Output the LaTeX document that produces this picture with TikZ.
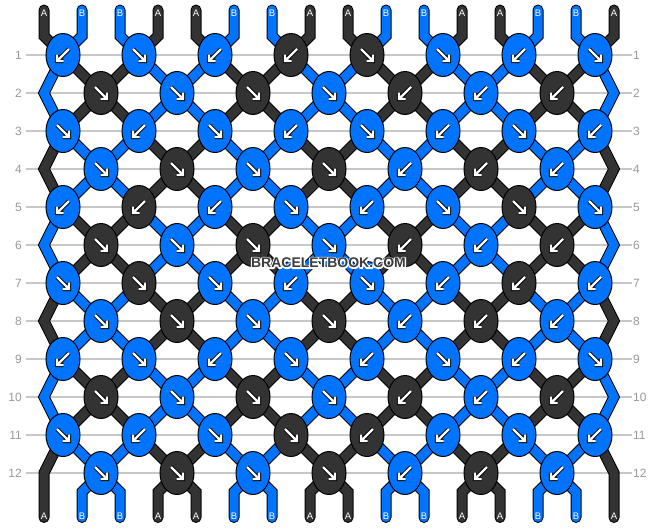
\documentclass[tikz,border=0pt]{standalone}
\usepackage{fontspec}
\setmainfont{Liberation Sans}
\usetikzlibrary{shapes.geometric}
\definecolor{colA}{HTML}{333333}
\definecolor{colB}{HTML}{0073FF}
\definecolor{gridc}{HTML}{C8C8C8}
\definecolor{labc}{HTML}{999999}
\definecolor{wmc}{HTML}{3C3C3C}
\pgfdeclarelayer{gridlayer}
\pgfdeclarelayer{strandlayer}
\pgfsetlayers{gridlayer,strandlayer,main}
\newcommand{\strokeText}[1]{\special{pdf:literal direct 1 1 1 RG 2.6 w 1 j 1 Tr}#1\special{pdf:literal direct 0 Tr}}
\begin{document}
\begin{tikzpicture}[x=1pt,y=-1pt,
  knot/.style={ellipse, draw=black, line width=1pt, fill=#1, minimum width=34pt, minimum height=43pt, inner sep=0pt},
  strand/.style={draw=black, line width=1pt, double=#1, double distance=9pt, line join=miter},
  rowlab/.style={text=labc, font=\fontsize{12}{12}\selectfont, inner sep=0pt},
  endlab/.style={text=white, font=\fontsize{9.5}{9.5}\selectfont, inner sep=0pt, anchor=base},
  arrowout/.style={black, line width=4.2pt, line cap=square, line join=miter},
  arrowin/.style={white, line width=2.2pt, line cap=square, line join=miter},
  wm/.style={font=\bfseries\fontsize{14}{14}\selectfont, inner sep=0pt}
]
\begin{pgfonlayer}{gridlayer}
\fill[white] (0,0) rectangle (658,528);
\end{pgfonlayer}
\useasboundingbox (0,0) rectangle (658,528);

% row labels and grid lines
\foreach \r in {1,...,12} {
  \pgfmathsetmacro{\yy}{55+38*(\r-1)}
  \node[rowlab, anchor=east] (ll\r) at (22,\yy) {\r};
  \node[rowlab, anchor=west] (rl\r) at (633,\yy) {\r};
  \begin{pgfonlayer}{gridlayer}
  \draw[gridc, line width=1.3pt] (26,\yy) -- (632,\yy);
  \end{pgfonlayer}
}

% knots
\foreach \r/\row in {
  1/{B/-1,B/1,B/-1,A/-1,A/1,B/1,B/-1,B/1},
  2/{A/1,B/1,A/1,B/1,A/-1,B/-1,A/-1},
  3/{B/1,B/-1,B/1,B/-1,B/1,B/-1,B/1,B/-1},
  4/{B/1,A/1,B/1,A/1,B/-1,A/-1,B/-1},
  5/{B/-1,A/-1,B/-1,B/1,B/-1,B/1,A/1,B/1},
  6/{A/1,B/1,A/1,B/1,A/-1,B/-1,A/-1},
  7/{B/1,A/1,B/1,B/-1,B/1,B/-1,A/-1,B/-1},
  8/{B/1,A/1,B/1,A/1,B/-1,A/-1,B/-1},
  9/{B/-1,B/1,B/-1,B/1,B/-1,B/1,B/-1,B/1},
  10/{A/1,B/1,A/1,B/1,A/-1,B/-1,A/-1},
  11/{B/1,B/-1,B/1,A/1,A/-1,B/-1,B/1,B/-1},
  12/{B/1,A/1,B/1,A/1,B/-1,A/-1,B/-1}} {
  \pgfmathsetmacro{\yy}{55+38*(\r-1)}
  \foreach \c/\dd [count=\k] in \row {
    \pgfmathsetmacro{\xx}{ifthenelse(mod(\r,2)==1,63,101)+76*(\k-1)}
    \node[knot=col\c] (n\r-\k) at (\xx,\yy) {};
    \begin{scope}[shift={(\xx,\yy)}, xscale=\dd]
      \draw[arrowout] (-6,-6) -- (5,5) (6,-0.5) -- (6,6) -- (-0.5,6);
      \draw[arrowin] (-6,-6) -- (5,5) (6,-0.5) -- (6,6) -- (-0.5,6);
    \end{scope}
  }
}

% edge coordinates
\foreach \r in {2,4,...,12} {
  \pgfmathsetmacro{\yy}{55+38*(\r-1)}
  \coordinate (L\r) at (44,\yy);
  \coordinate (R\r) at (614,\yy);
}
\foreach \p in {1,...,16} {
  \pgfmathsetmacro{\xx}{44+38*(\p-1)}
  \coordinate (T\p) at (\xx,10);
  \coordinate (TB\p) at (\xx,36);
  \coordinate (BB\p) at (\xx,492);
  \coordinate (B\p) at (\xx,517.5);
  \pgfmathtruncatemacro{\isA}{mod(\p,4)<2}
  \ifnum\isA=1 \def\lab{A}\else\def\lab{B}\fi
  \node[endlab] (tl\p) at (\xx,16) {\lab};
  \node[endlab] (bl\p) at (\xx,519.5) {\lab};
}

\begin{pgfonlayer}{strandlayer}
% top strands
\foreach \p in {1,...,16} {
  \pgfmathtruncatemacro{\kc}{int((\p+1)/2)}
  \pgfmathtruncatemacro{\isA}{mod(\p,4)<2}
  \ifnum\isA=1 \def\col{colA}\else\def\col{colB}\fi
  \draw[strand=\col, line cap=round] (T\p) -- (TB\p) -- (n1-\kc.center);
}
% bottom strands
\foreach \p in {2,...,15} {
  \pgfmathtruncatemacro{\kf}{int(\p/2)}
  \pgfmathtruncatemacro{\isA}{mod(\p,4)<2}
  \ifnum\isA=1 \def\col{colA}\else\def\col{colB}\fi
  \draw[strand=\col, line cap=round] (n12-\kf.center) -- (BB\p) -- (B\p);
}
% inner segments
\foreach \r in {1,...,11} {
  \pgfmathtruncatemacro{\rn}{\r+1}
  \pgfmathtruncatemacro{\ph}{mod(\r-1,4)<2}
  \foreach \p in {2,...,15} {
    \pgfmathtruncatemacro{\kc}{int((\p+1)/2)}
    \pgfmathtruncatemacro{\kf}{int(\p/2)}
    \pgfmathtruncatemacro{\inn}{mod(\p,4)>1}
    \pgfmathtruncatemacro{\isA}{\ph==\inn}
    \ifodd\r \edef\ka{\kc}\edef\kb{\kf}\else\edef\ka{\kf}\edef\kb{\kc}\fi
    \ifnum\isA=1 \def\col{colA}\else\def\col{colB}\fi
    \draw[strand=\col] (n\r-\ka.center) -- (n\rn-\kb.center);
  }
}
% edge strands
\foreach \r in {1,3,...,9} {
  \pgfmathtruncatemacro{\rn}{\r+1}
  \pgfmathtruncatemacro{\rnn}{\r+2}
  \pgfmathtruncatemacro{\ph}{mod(\r-1,4)<2}
  \ifnum\ph=1 \def\col{colB}\else\def\col{colA}\fi
  \draw[strand=\col] (n\r-1.center) -- (L\rn) -- (n\rnn-1.center);
  \draw[strand=\col] (n\r-8.center) -- (R\rn) -- (n\rnn-8.center);
}
\draw[strand=colA, line cap=round] (n11-1.center) -- (L12) -- (B1);
\draw[strand=colA, line cap=round] (n11-8.center) -- (R12) -- (B16);
\end{pgfonlayer}

% watermark: white outline, then dark letters
\node[wm, text=white] (wmhalo) at (328.5,263) {\strokeText{BRACELETBOOK.COM}};
\node[wm, text=wmc] (wm) at (328.5,263) {BRACELETBOOK.COM};
\end{tikzpicture}
\end{document}
